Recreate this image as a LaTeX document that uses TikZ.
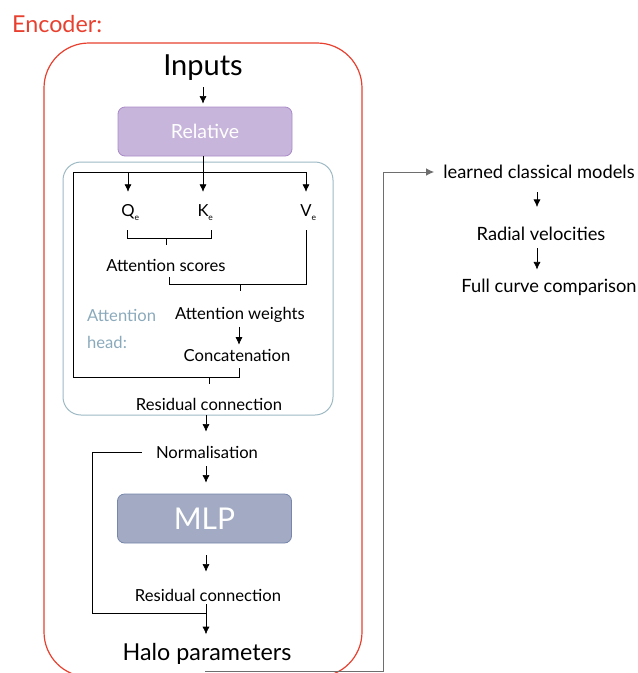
\documentclass[tikz,border=0pt]{standalone}
\usepackage{fontspec}
\setmainfont{Lato}
\usetikzlibrary{arrows.meta, calc, positioning}
\definecolor{encRed}{HTML}{E8402F}
\definecolor{relFill}{HTML}{C8B5DB}
\definecolor{relLine}{HTML}{A98AC8}
\definecolor{headLine}{HTML}{9DB9C4}
\definecolor{headText}{HTML}{8AAABC}
\definecolor{mlpFill}{HTML}{A2ABC3}
\definecolor{mlpLine}{HTML}{7786AC}
\definecolor{linkGray}{HTML}{6E6E6E}
\tikzset{
    lbl/.style={font=\fontsize{16.6}{19}\selectfont, inner sep=1pt},
    sideLbl/.style={font=\fontsize{18.3}{21}\selectfont, inner sep=1pt},
    bigLbl/.style={font=\fontsize{23.3}{27}\selectfont, inner sep=1pt},
    hugeLbl/.style={font=\fontsize{29}{34}\selectfont, inner sep=1pt},
    block/.style={draw, rounded corners=7pt, minimum width=174pt, minimum height=49pt, line width=0.8pt, text=white},
    flowEdge/.style={-{Latex[length=7.5pt, width=7pt]}, line width=0.6pt},
    wire/.style={line width=0.6pt},
    outLink/.style={-{Latex[length=8pt, width=7.5pt]}, line width=1pt, linkGray},
}
\newcommand{\qkv}[1]{#1\rlap{\raisebox{-4pt}{\fontsize{8.5}{9}\selectfont e}}}
\newcommand{\drawJoin}[4]{
    % two ends joined by a bar, tick hangs over #4
    \draw[wire] (#1) -- (#1 |- #3) -- (#2 |- #3) -- (#2);
    \draw[wire] (#4 |- #3) -- ++(0,7);
}

\begin{document}
\begin{tikzpicture}[x=1pt, y=-1pt]
    \useasboundingbox (0,0) rectangle (638,673);
    \clip (0,0) rectangle (638,673);

    % encoder frame
    \node[bigLbl, anchor=west, text=encRed] (enc) at (11,24.5) {Encoder:};
    \draw[encRed, line width=1.2pt, rounded corners=45pt] (44,43) rectangle (362,677);

    \node[hugeLbl] (inputs) at (203,68) {Inputs};
    \node[block, fill=relFill, draw=relLine, font=\fontsize{19.5}{22}\selectfont] (rel) at (205,131.5) {Relative};
    \draw[flowEdge, shorten <=5pt, shorten >=3pt] (inputs.south -| 203,0) -- (rel.north -| 203,0);

    % attention head
    \draw[headLine, line width=1pt, rounded corners=18pt] (63,162) rectangle (333,415);
    \node[lbl, text=headText, align=left, anchor=west, font=\fontsize{16.6}{27}\selectfont] (headLbl) at (86,328.5) {Attention\\head:};

    \node[lbl] (q) at (128,213) {\qkv{Q}};
    \node[lbl] (k) at (203,213) {\qkv{K}};
    \node[lbl] (v) at (306,213) {\qkv{V}};

    \coordinate (splitL) at (73,172);
    \coordinate (splitR) at (306,172);
    \draw[wire] (splitL) -- (splitR);
    \draw[flowEdge, shorten >=12pt] (splitL -| q) -- (q);
    \draw[flowEdge, shorten >=12pt] (rel.south -| k) -- (k);
    \draw[flowEdge, shorten >=12pt] (splitR) -- (v);

    \node[lbl] (scores) at (166,265) {Attention scores};
    \node[lbl] (weights) at (240,315) {Attention weights};
    \node[lbl] (conc) at (237,355) {Concatenation};
    \node[lbl] (res1) at (209,404) {Residual connection};

    \coordinate (qEnd) at (127,230);
    \coordinate (kEnd) at (211,230);
    \coordinate (qkBar) at (0,238);
    \drawJoin{qEnd}{kEnd}{qkBar}{scores}

    \coordinate (sEnd) at (169,277);
    \coordinate (vEnd) at (306,230);
    \coordinate (wBar) at (0,284);
    \drawJoin{sEnd}{vEnd}{wBar}{weights}

    \draw[flowEdge, shorten <=3pt, shorten >=3pt] (weights.south -| 239,0) -- (conc.north -| 239,0);

    \coordinate (cEnd) at (239,368);
    \coordinate (rBar) at (0,377);
    \drawJoin{splitL}{cEnd}{rBar}{res1}

    % feed forward part
    \node[lbl] (norm) at (207,452) {Normalisation};
    \node[block, fill=mlpFill, draw=mlpLine, font=\fontsize{30}{34}\selectfont] (mlp) at (204.5,518.5) {MLP};
    \node[lbl] (res2) at (208,595) {Residual connection};
    \node[bigLbl] (halo) at (207,654) {Halo parameters};

    \draw[flowEdge, shorten <=4pt, shorten >=13pt] (res1.south -| 206,0) -- (norm.north -| 206,0);
    \draw[flowEdge, shorten <=7pt, shorten >=11pt] (norm.south -| 206,0) -- (mlp.north -| 206,0);
    \draw[flowEdge, shorten <=12pt, shorten >=16pt] (mlp.south -| 206,0) -- (res2.north -| 206,0);
    \draw[flowEdge, shorten <=2pt, shorten >=8pt] (res2.south -| 206,0) -- (halo.north -| 206,0);

    \coordinate (skipBot) at (92,613);
    \draw[wire, shorten <=13pt] (norm.west) -| (skipBot) -- (skipBot -| 206,0);

    % decoding side
    \node[sideLbl] (learned) at (539,172) {learned classical models};
    \node[sideLbl] (radial) at (541,234) {Radial velocities};
    \node[sideLbl] (full) at (549,287) {Full curve comparison};

    \draw[flowEdge, shorten <=12pt, shorten >=19pt] (learned.south -| 537,0) -- (radial.north -| 537,0);
    \draw[flowEdge, shorten <=6pt, shorten >=8pt] (radial.south -| 537,0) -- (full.north -| 537,0);

    \coordinate (haloOut) at (205,671);
    \coordinate (turn) at (383,172);
    \draw[outLink, shorten >=8pt] (haloOut) -- (haloOut -| turn) -- (turn) -- (learned);

\end{tikzpicture}
\end{document}
